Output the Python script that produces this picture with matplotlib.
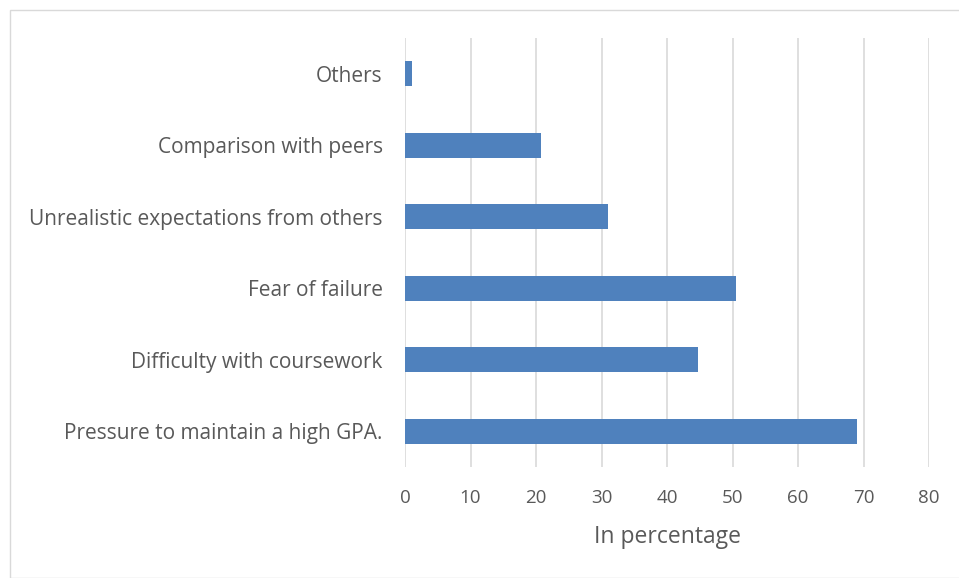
import matplotlib.pyplot as plt
from matplotlib.patches import Rectangle

# Reasons for academic stress, share of respondents
categories = [
    "Pressure to maintain a high GPA.",
    "Difficulty with coursework",
    "Fear of failure",
    "Unrealistic expectations from others",
    "Comparison with peers",
    "Others",
]
values = [69.0, 44.8, 50.6, 31.0, 20.7, 1.1]
xticks = [0, 10, 20, 30, 40, 50, 60, 70, 80]

plt.rcParams["font.family"] = ["Open Sans", "DejaVu Sans"]
text_color = "#595959"
grid_color = "#d9d9d9"
bar_color = "#4f81bd"

fig = plt.figure(figsize=(9.59, 5.78), dpi=100)
fig.patches.append(Rectangle((10 / 959, 0), 1.0, 1 - 10 / 578, transform=fig.transFigure,
                             fill=False, edgecolor="#d9d9d9", linewidth=1.0))

ax = fig.add_axes([405 / 959, 1 - 467 / 578, 524 / 959, 429 / 578])
y = list(range(len(categories)))
ax.barh(y, values, height=0.35, color=bar_color, zorder=3)

ax.set_xlim(0, 80)
ax.set_ylim(-0.5, len(categories) - 0.5)
ax.set_xticks(xticks)
ax.set_xticklabels([str(t) for t in xticks])
ax.set_yticks(y)
ax.set_yticklabels(categories, fontsize=15)
ax.grid(axis="x", color=grid_color, linewidth=1.2, zorder=0)
for side in ("top", "right", "bottom", "left"):
    ax.spines[side].set_visible(False)
ax.tick_params(axis="both", length=0, colors=text_color)
ax.tick_params(axis="x", labelsize=13.5, pad=16)
ax.tick_params(axis="y", pad=16)
ax.set_xlabel("In percentage", fontsize=16.5, color=text_color, labelpad=13)

plt.savefig("out.png", dpi=100)
plt.close()
